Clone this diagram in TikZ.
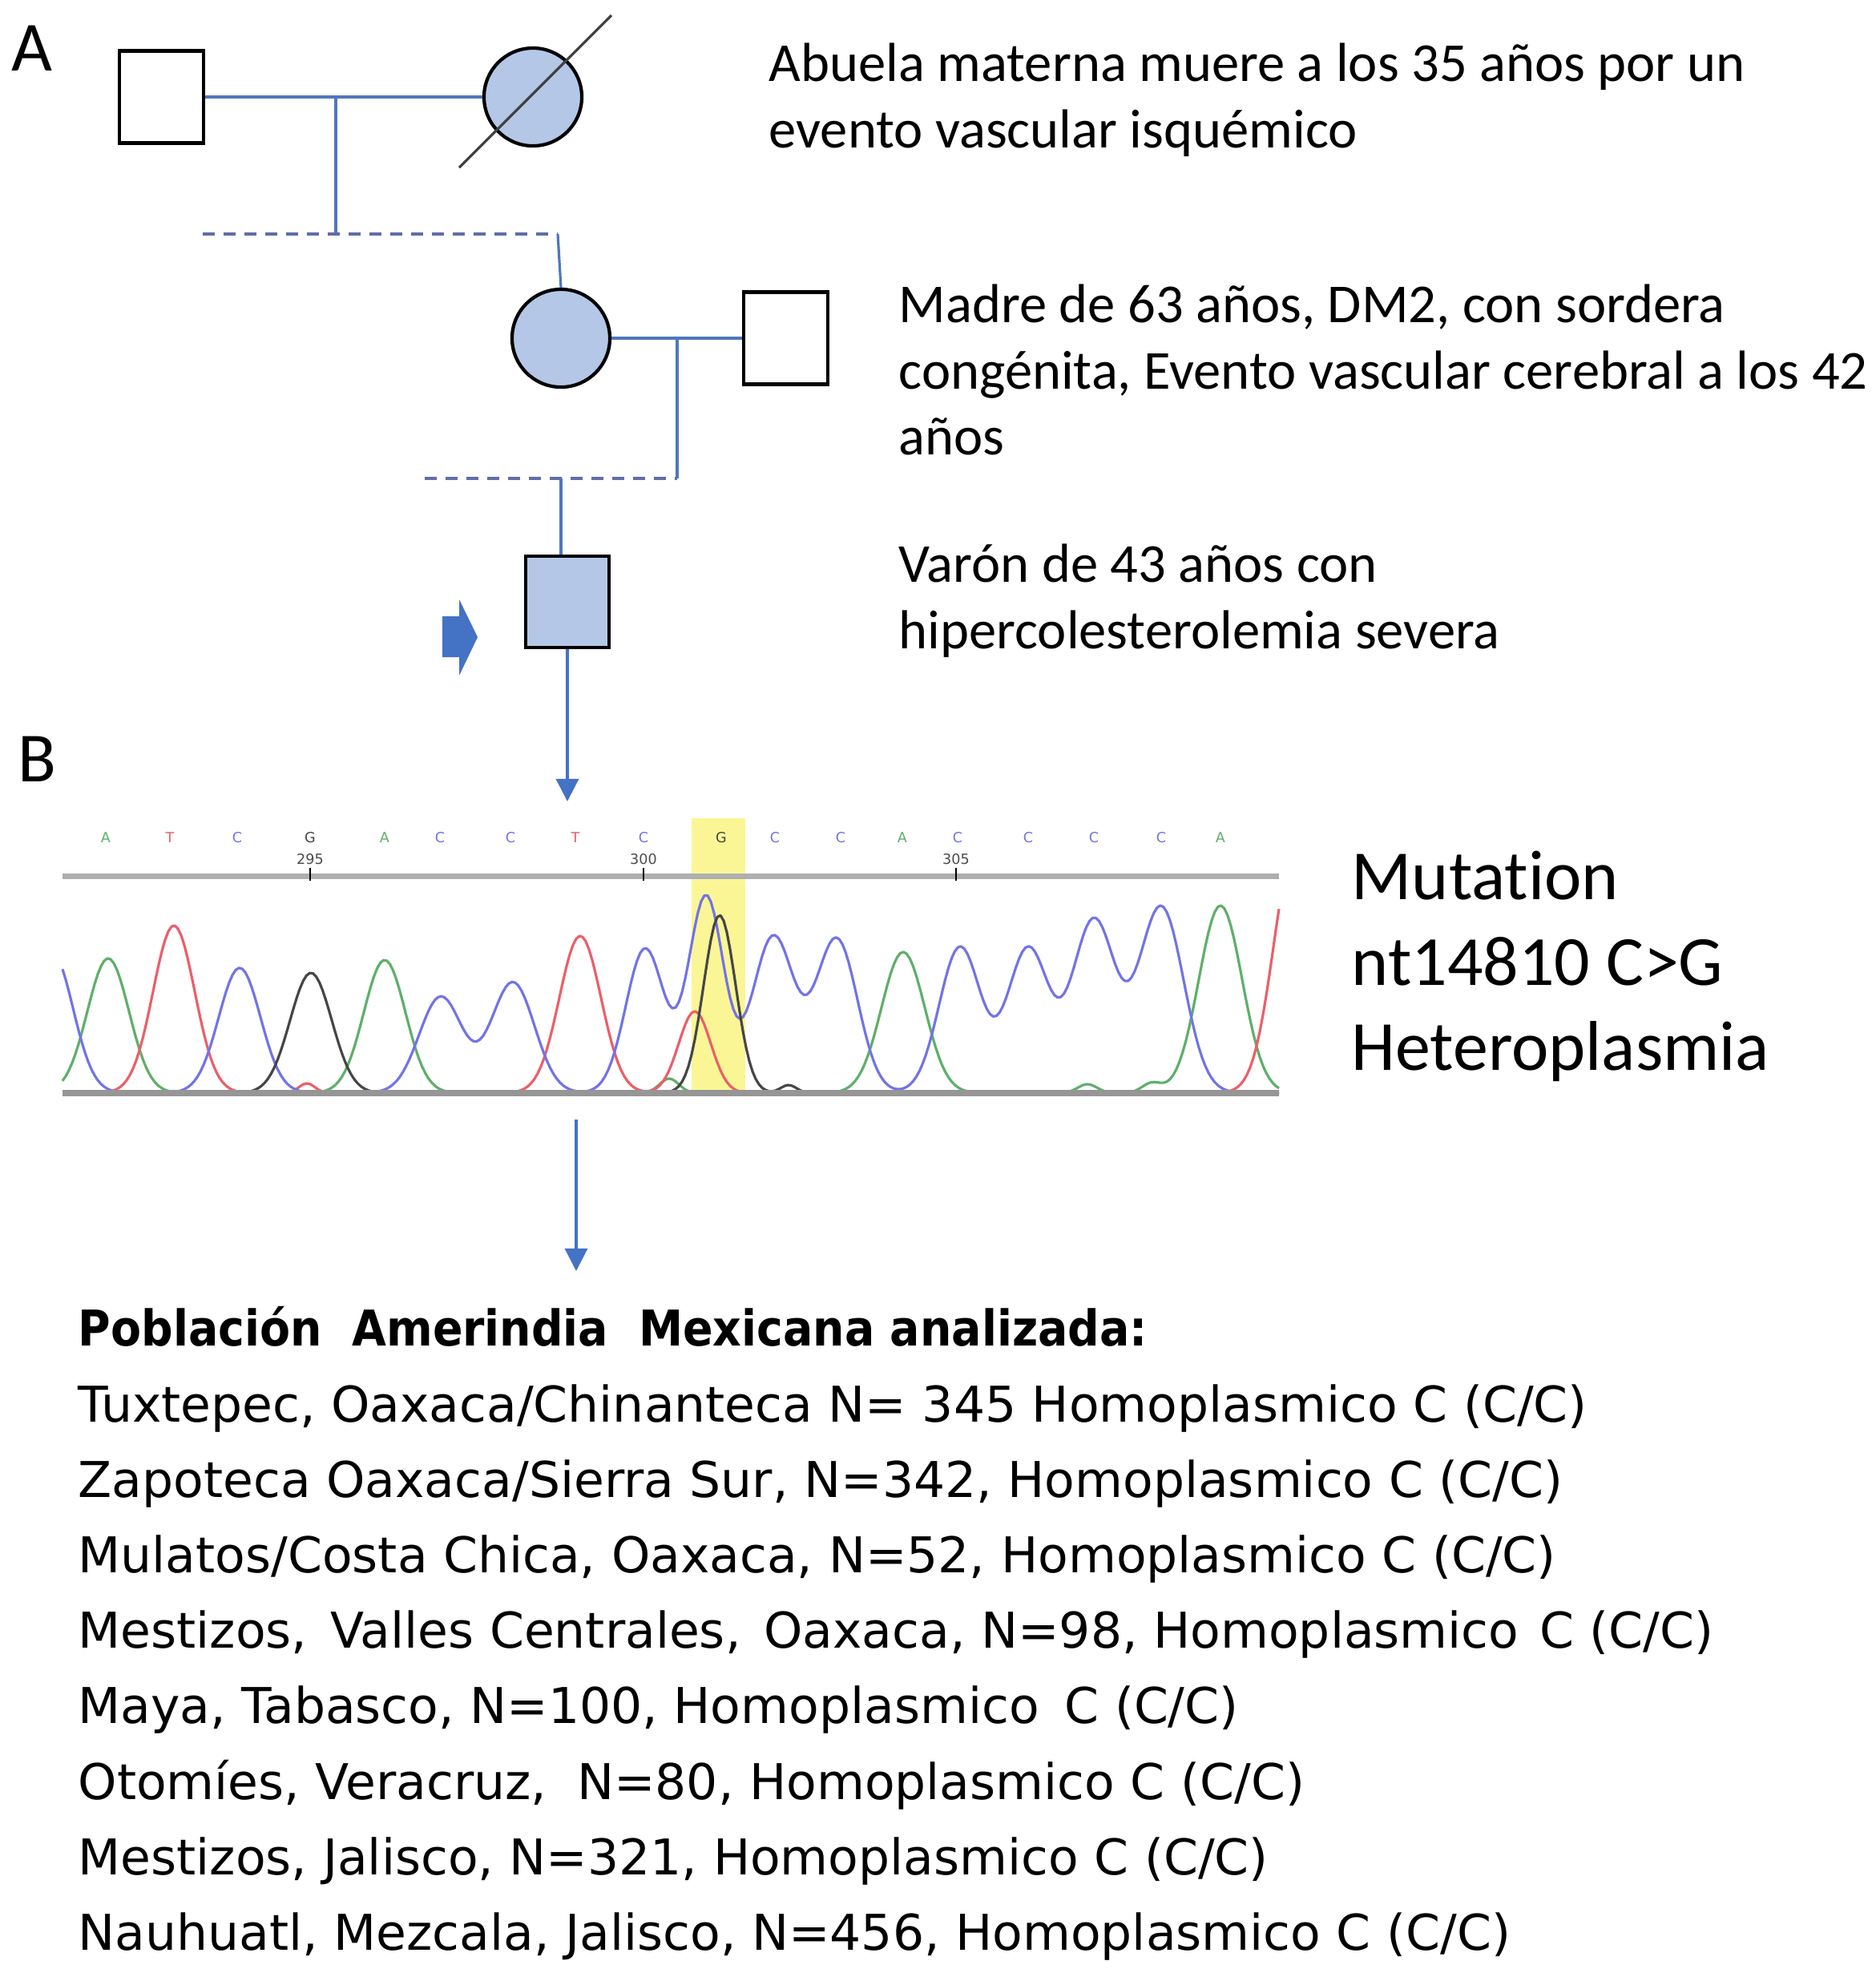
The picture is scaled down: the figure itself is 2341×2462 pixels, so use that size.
\documentclass[tikz,border=0pt]{standalone}
\usepackage{fontspec}
\setmainfont[Ligatures=NoCommon]{Carlito}
\newfontfamily\popfont[BoldFeatures={FakeStretch=0.9}]{DejaVu Sans}
\usetikzlibrary{arrows.meta}
\definecolor{pedline}{RGB}{79,118,191}
\definecolor{dashcol}{RGB}{95,110,165}
\definecolor{affect}{RGB}{180,199,231}
\definecolor{arrowblue}{RGB}{68,114,196}
\definecolor{slashcol}{RGB}{64,64,64}
\definecolor{trA}{RGB}{95,175,105}
\definecolor{trT}{RGB}{235,95,105}
\definecolor{trC}{RGB}{115,115,230}
\definecolor{trG}{RGB}{70,70,70}
\definecolor{hilite}{RGB}{250,246,150}
\definecolor{axisgray}{RGB}{175,175,175}
\definecolor{basegray}{RGB}{150,150,150}
\begin{document}
\begin{tikzpicture}[x=0.01cm,y=-0.01cm,
  declare function={gs(\va,\vb,\vc,\vd)=\vc*exp(max(-9,-0.5*((\va-\vb)/\vd)*((\va-\vb)/\vd)));
    tra(\va)=gs(\va,135,168,26)+gs(\va,480,166,26)+gs(\va,835,18,12)+gs(\va,1127,176,27)+gs(\va,1357,11,12)+gs(\va,1437,12,12)+gs(\va,1523,234,27);
    trt(\va)=gs(\va,217,209,26)+gs(\va,383,12,10)+gs(\va,724,196,26)+gs(\va,867,102,20)+gs(\va,1615,300,26);
    trg(\va)=gs(\va,388,150,26)+gs(\va,898,222,20)+gs(\va,984,10,10);
    trc(\va)=gs(\va,65,175,26)+gs(\va,299,156,26)+gs(\va,550,120,27)+gs(\va,640,138,27)+gs(\va,805,180,24)+gs(\va,881,245,22)+gs(\va,965,195,26)+gs(\va,1044,192,26)+gs(\va,1198,182,26)+gs(\va,1283,180,26)+gs(\va,1365,215,27)+gs(\va,1449,232,28);},
  indiv/.style={draw=black,line width=1.2pt,inner sep=0pt},
  male/.style={indiv,rectangle,minimum width=10.5mm,minimum height=11.5mm},
  female/.style={indiv,circle,minimum size=12.2mm},
  affected/.style={fill=affect},
  link/.style={draw=pedline,line width=0.9pt},
  sib/.style={draw=dashcol,line width=0.9pt,dash pattern=on 4.3pt off 3.1pt},
  flow/.style={draw=arrowblue,line width=0.9pt,-{Triangle[width=8pt,length=8pt]}},
  note/.style={anchor=base west,inner sep=0pt,font=\fontsize{19.5}{23.6}\selectfont},
  mut/.style={anchor=base west,inner sep=0pt,font=\fontsize{25}{30}\selectfont},
  panel/.style={anchor=base west,inner sep=0pt,font=\fontsize{25}{30}\selectfont},
  pop/.style={anchor=base west,inner sep=0pt,font=\popfont\fontsize{17.5}{21}\selectfont},
  basecall/.style={inner sep=0pt,font=\popfont\fontsize{5}{6}\selectfont},
  trace/.style={line width=0.9pt,line join=round}
]
\path[fill=white,use as bounding box] (0,0) rectangle (2341,2462);

% panel labels
\node[panel] (lblA) at (14,88) {A};
\node[panel] (lblB) at (22,975) {B};

% ---------- pedigree ----------
\node[male] (gf) at (201.5,121) {};
\node[female,affected] (gm) at (665,121) {};
\coordinate (sl1) at (573,209);
\coordinate (sl2) at (763,19);
\draw[slashcol,line width=0.9pt] (sl1) -- (sl2);
\coordinate (c1) at (419,121);
\coordinate (d1) at (419,292);
\coordinate (d1l) at (253,292);
\coordinate (d1r) at (696,292);
\draw[link] (gf.east) -- (gm.west);
\draw[link] (c1) -- (d1);
\draw[sib] (d1l) -- (d1r);

\node[female,affected] (mo) at (700,422) {};
\node[male] (fa) at (980.5,422) {};
\draw[link] (d1r) -- (mo.north);
\draw[link] (mo.east) -- (fa.west);
\coordinate (c2) at (845,422);
\coordinate (d2) at (845,597);
\coordinate (d2l) at (530,597);
\coordinate (d2m) at (700,597);
\draw[link] (c2) -- (d2);
\draw[sib] (d2l) -- (d2);

\node[male,affected,minimum width=10.4mm,minimum height=11.4mm] (pr) at (708,751) {};
\draw[link] (d2m) -- (d2m |- pr.north);
\fill[arrowblue] (552,769) -- (573,769) -- (573,748) -- (596,795) -- (573,843) -- (573,820) -- (552,820) -- cycle;
\coordinate (a1end) at (708,1000);
\draw[flow] (pr.south) -- (a1end);

% pedigree notes
\node[note] (ab1) at (959,101) {Abuela materna muere a los 35 años por un};
\node[note] (ab2) at (959,184) {evento vascular isquémico};
\node[note] (ma1) at (1121,402) {Madre de 63 años, DM2, con sordera};
\node[note] (ma2) at (1121,485) {congénita, Evento vascular cerebral a los 42};
\node[note] (ma3) at (1121,567) {años};
\node[note] (va1) at (1121,726) {Varón de 43 años con};
\node[note] (va2) at (1121,809) {hipercolesterolemia severa};

% ---------- chromatogram ----------
\fill[hilite] (863,1021) rectangle (930,1367);
\draw[axisgray,line width=2pt] (78,1093) -- (1596,1093);
\foreach \tx/\tl [count=\k] in {387/295,803/300,1193/305}{
  \draw[black,line width=0.5pt] (\tx,1083) -- (\tx,1099);
  \node[basecall,text=black!70] (tk\k) at (\tx,1072) {\tl};
}
\foreach \p/\b/\cl [count=\i] in {132/A/trA,212/T/trT,296/C/trC,387/G/trG,480/A/trA,549/C/trC,637/C/trC,718/T/trT,803/C/trC,900/G/trG,967/C/trC,1049/C/trC,1126/A/trA,1195/C/trC,1283/C/trC,1365/C/trC,1449/C/trC,1523/A/trA}{
  \node[basecall,text=\cl] (bs\i) at (\p,1045) {\b};
}
\draw[trace,trA] plot[domain=78:1596,samples=380] (\x,{1364-tra(\x)});
\draw[trace,trT] plot[domain=78:1596,samples=380] (\x,{1364-trt(\x)});
\draw[trace,trC] plot[domain=78:1596,samples=380] (\x,{1364-trc(\x)});
\draw[trace,trG] plot[domain=78:1596,samples=380] (\x,{1364-trg(\x)});
\draw[basegray,line width=2.5pt] (78,1364) -- (1596,1364);

\node[mut] (mu1) at (1686,1122) {Mutat\kern0pt ion};
\node[mut] (mu2) at (1686,1229) {nt14810 C>G};
\node[mut] (mu3) at (1686,1335) {Heteroplasmia};

\coordinate (a2start) at (719,1397);
\coordinate (a2end) at (719,1586);
\draw[flow] (a2start) -- (a2end);

% ---------- population list ----------
\node[pop] (p0) at (97,1679) {\bfseries Población\hspace{0.3em} Amerindia\hspace{0.3em} Mexicana analizada:};
\node[pop] (p1) at (97,1774) {Tuxtepec, Oaxaca/Chinanteca N= 345 Homoplasmico C (C/C)};
\node[pop] (p2) at (97,1868) {Zapoteca Oaxaca/Sierra Sur, N=342, Homoplasmico C (C/C)};
\node[pop] (p3) at (97,1962) {Mulatos/Costa Chica, Oaxaca, N=52, Homoplasmico C (C/C)};
\node[pop] (p4) at (97,2056) {Mestizos,\hspace{0.15em} Valles Centrales,\hspace{0.15em} Oaxaca, N=98, Homoplasmico\hspace{0.1em} C (C/C)};
\node[pop] (p5) at (97,2150) {Maya, Tabasco, N=100, Homoplasmico\hspace{0.2em} C (C/C)};
\node[pop] (p6) at (97,2245) {Otomíes, Veracruz,\hspace{0.3em} N=80, Homoplasmico C (C/C)};
\node[pop] (p7) at (97,2339) {Mestizos, Jalisco, N=321, Homoplasmico C (C/C)};
\node[pop] (p8) at (97,2433) {Nauhuatl, Mezcala, Jalisco, N=456, Homoplasmico C (C/C)};
\end{tikzpicture}
\end{document}
